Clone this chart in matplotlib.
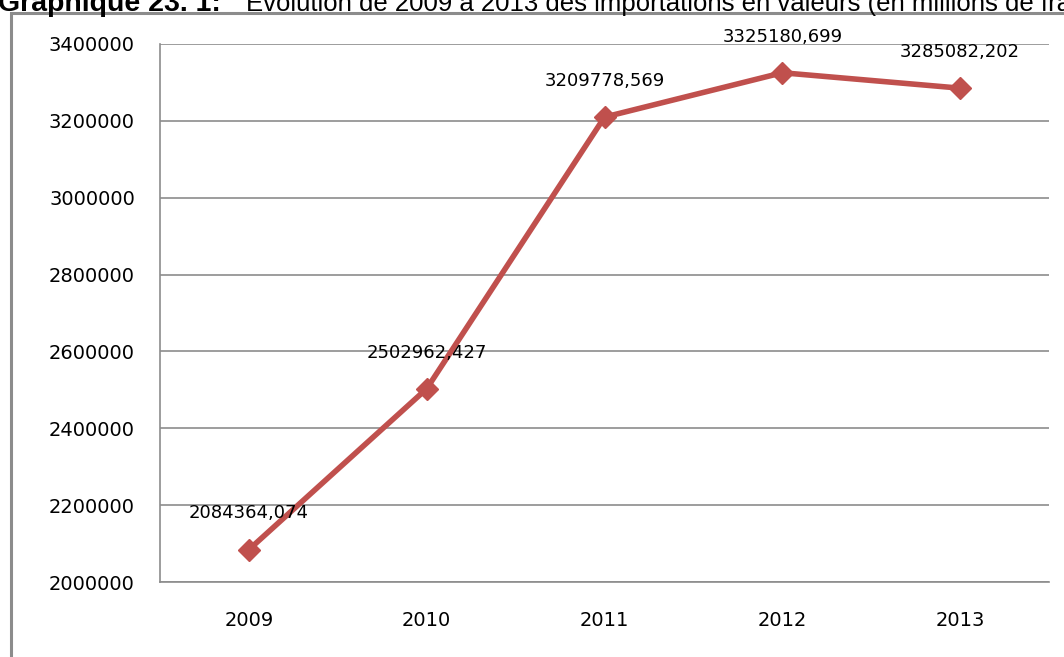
import matplotlib.pyplot as plt
from matplotlib.patches import Rectangle

years = ['2009', '2010', '2011', '2012', '2013']
imports = [2084364.074, 2502962.427, 3209778.569, 3325180.699, 3285082.202]
labels = ['2084364,074', '2502962,427', '3209778,569', '3325180,699', '3285082,202']
y_ticks = [2000000, 2200000, 2400000, 2600000, 2800000, 3000000, 3200000, 3400000]

W, H = 1064, 657
fig = plt.figure(figsize=(W / 100, H / 100), dpi=100)

# outer chart frame (right and bottom edges fall outside the picture)
fig.patches.append(Rectangle((11 / W, -0.1), 1.2, 1 - 13 / H + 0.1,
                             transform=fig.transFigure, fill=False,
                             edgecolor='#8c8c8c', linewidth=2.2, clip_on=False))

# title, cut off at the top of the picture as in the source
fig.text(-0.002, 1 - 11 / H, 'Graphique 23. 1:', fontsize=20.5, fontweight='bold',
         family='Liberation Sans', va='baseline', ha='left')
fig.text(246 / W, 1 - 11 / H,
         'Evolution de 2009 à 2013 des importations en valeurs (en millions de francs CFA)',
         fontsize=18.5, family='Liberation Sans', va='baseline', ha='left')

ax = fig.add_axes([160 / W, (H - 582) / H, (1049 - 160) / W, (582 - 44) / H])
x = range(len(years))
ax.plot(x, imports, color='#C0504D', linewidth=4, marker='D', markersize=11,
        solid_capstyle='round')

for xi, v, lab in zip(x, imports, labels):
    ax.annotate(lab, (xi, v), xytext=(0, 26), textcoords='offset points',
                ha='center', va='center', fontsize=13)

ax.set_xlim(-0.5, len(years) - 0.5)
ax.set_ylim(2000000, 3400000)
ax.set_xticks(list(x))
ax.set_xticklabels(years)
ax.set_yticks(y_ticks)
ax.set_yticklabels([str(t) for t in y_ticks])
ax.tick_params(axis='both', length=0, labelsize=14)
ax.tick_params(axis='y', pad=18)
ax.tick_params(axis='x', pad=21)
ax.grid(axis='y', color='#8c8c8c', linewidth=1.2)
ax.set_axisbelow(True)
for side in ['top', 'right']:
    ax.spines[side].set_visible(False)
for side in ['left', 'bottom']:
    ax.spines[side].set_color('#8c8c8c')
    ax.spines[side].set_linewidth(1.2)

fig.savefig('out.png', dpi=100)
